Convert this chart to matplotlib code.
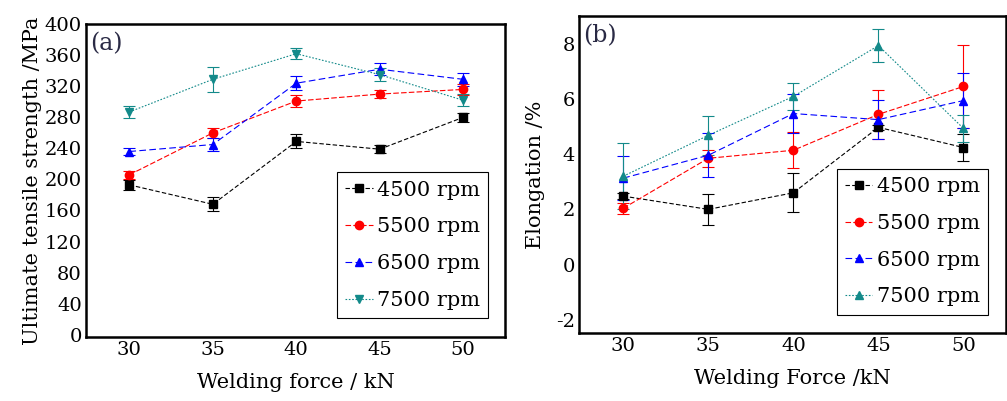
import matplotlib.pyplot as plt
import numpy as np

plt.rcParams['font.family'] = ['DejaVu Serif']
plt.rcParams['axes.unicode_minus'] = False

# data
force = [30, 35, 40, 45, 50]
labels = ['4500 rpm', '5500 rpm', '6500 rpm', '7500 rpm']

uts_4500 = [193, 168, 249, 239, 280]
uts_5500 = [206, 260, 301, 310, 316]
uts_6500 = [236, 245, 324, 342, 329]
uts_7500 = [287, 329, 362, 335, 302]
uts_err_4500 = [6, 9, 9, 5, 6]
uts_err_5500 = [5, 6, 8, 5, 7]
uts_err_6500 = [4, 8, 9, 8, 8]
uts_err_7500 = [8, 16, 7, 8, 8]

el_4500 = [2.48, 2.0, 2.6, 4.97, 4.24]
el_5500 = [2.04, 3.85, 4.14, 5.44, 6.45]
el_6500 = [3.13, 3.96, 5.47, 5.25, 5.94]
el_7500 = [3.2, 4.68, 6.09, 7.93, 4.93]
el_err_4500 = [0.1, 0.55, 0.7, 0.1, 0.5]
el_err_5500 = [0.2, 0.3, 0.65, 0.9, 1.5]
el_err_6500 = [0.8, 0.8, 0.7, 0.7, 1.0]
el_err_7500 = [1.2, 0.7, 0.5, 0.6, 0.5]

colors = ['black', 'red', 'blue', '#138a8a']
styles = [(0, (4, 2)), (0, (5, 2)), (0, (6, 3)), (0, (1.5, 1.5))]

fig = plt.figure(figsize=(10.07, 4.01), dpi=100)
ax1 = fig.add_axes([0.0854, 0.1596, 0.416, 0.780])
ax2 = fig.add_axes([0.575, 0.170, 0.424, 0.790])

def draw(ax, ys, errs, markers):
    lines = []
    for y, e, c, ls, m in zip(ys, errs, colors, styles, markers):
        cont = ax.errorbar(force, y, yerr=e, color=c, ls=ls, lw=0.8, marker=m,
                           ms=6, capsize=4, elinewidth=0.8, capthick=0.8)
        lines.append(cont[0])
    return lines

# (a) tensile strength
h1 = draw(ax1, [uts_4500, uts_5500, uts_6500, uts_7500],
          [uts_err_4500, uts_err_5500, uts_err_6500, uts_err_7500],
          ['s', 'o', '^', 'v'])
ax1.set_xlim(27.4, 52.5)
ax1.set_ylim(-3, 397)
ax1.set_yticks(np.arange(0, 401, 40))
ax1.set_xticks(force)
ax1.set_xlabel('Welding force / kN', fontsize=15, labelpad=10)
ax1.set_ylabel('Ultimate tensile strength /MPa', fontsize=15, labelpad=2)
ax1.text(0.01, 0.975, '(a)', transform=ax1.transAxes, fontsize=17,
         va='top', ha='left', color='#2a2a45')
leg1 = ax1.legend(h1, labels, loc='lower right', bbox_to_anchor=(0.96, 0.06),
                  fontsize=15, handlelength=1.3, handletextpad=0.2,
                  borderpad=0.4, labelspacing=0.85, borderaxespad=0,
                  fancybox=False, edgecolor='black', framealpha=1)
leg1.get_frame().set_linewidth(0.8)

# (b) elongation
h2 = draw(ax2, [el_4500, el_5500, el_6500, el_7500],
          [el_err_4500, el_err_5500, el_err_6500, el_err_7500],
          ['s', 'o', '^', '^'])
ax2.set_xlim(27.4, 52.5)
ax2.set_ylim(-2.47, 9.0)
ax2.set_yticks([-2, 0, 2, 4, 6, 8])
ax2.set_xticks(force)
ax2.set_xlabel('Welding Force /kN', fontsize=15, labelpad=10)
ax2.set_ylabel('Elongation /%', fontsize=15, labelpad=8)
ax2.text(0.01, 0.975, '(b)', transform=ax2.transAxes, fontsize=17,
         va='top', ha='left', color='#2a2a45')
leg2 = ax2.legend(h2, labels, loc='lower right', bbox_to_anchor=(0.958, 0.057),
                  fontsize=15, handlelength=1.3, handletextpad=0.2,
                  borderpad=0.4, labelspacing=0.85, borderaxespad=0,
                  fancybox=False, edgecolor='black', framealpha=1)
leg2.get_frame().set_linewidth(0.8)

for ax in (ax1, ax2):
    ax.tick_params(length=0, labelsize=14, pad=3)
    for s in ax.spines.values():
        s.set_linewidth(1.8)

plt.savefig('out.png', dpi=100)
